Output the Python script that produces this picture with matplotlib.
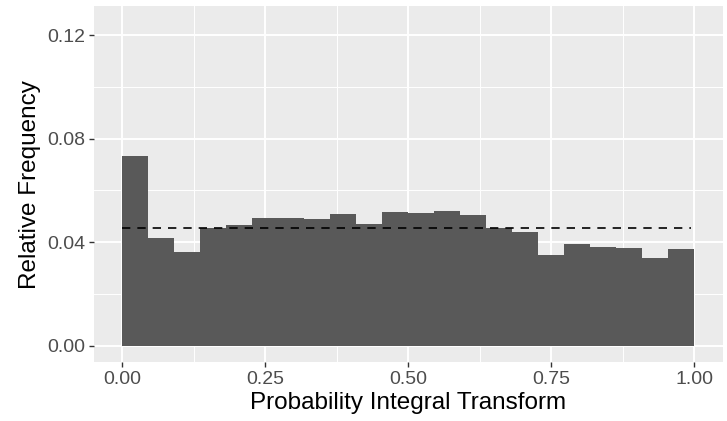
import matplotlib
matplotlib.use("Agg")
import matplotlib.pyplot as plt
import numpy as np

plt.rcParams['font.family'] = ['Liberation Sans', 'DejaVu Sans']

n_bins = 22
bin_edges = np.linspace(0, 1, n_bins + 1)
rel_freq = [0.0735, 0.0418, 0.0361, 0.0454, 0.0466, 0.0492, 0.0492, 0.0488,
            0.0509, 0.0469, 0.0518, 0.0513, 0.0520, 0.0504, 0.0454, 0.0438,
            0.0350, 0.0394, 0.0383, 0.0379, 0.0338, 0.0372]
uniform_level = 1 / 22
x_ticks = [0.00, 0.25, 0.50, 0.75, 1.00]
x_ticklabels = ["0.00", "0.25", "0.50", "0.75", "1.00"]
y_ticks = [0.00, 0.04, 0.08, 0.12]
y_ticklabels = ["0.00", "0.04", "0.08", "0.12"]

W, H = 727, 421
fig = plt.figure(figsize=(W / 100, H / 100), dpi=100)
left, right, top, bottom = 94, 722.8, 6, 362.3
ax = fig.add_axes([left / W, (H - bottom) / H, (right - left) / W, (bottom - top) / H])
ax.set_facecolor('#EBEBEB')

ax.set_xlim(-0.0496, 1.05)
ax.set_ylim(-0.0064, 0.1313)

# grid
for v in [0.125, 0.375, 0.625, 0.875]:
    ax.axvline(v, color='white', lw=0.7, zorder=0)
for v in [0.02, 0.06, 0.10]:
    ax.axhline(v, color='white', lw=0.7, zorder=0)
for v in x_ticks:
    ax.axvline(v, color='white', lw=1.4, zorder=0)
for v in y_ticks:
    ax.axhline(v, color='white', lw=1.4, zorder=0)

ax.bar(bin_edges[:-1], rel_freq, width=np.diff(bin_edges), align='edge',
       color='#595959', edgecolor='none', zorder=2)
ax.hlines(uniform_level, 0, 0.995, colors='black', linestyles=(0, (5, 4.2)), lw=1.2, zorder=3)

for s in ax.spines.values():
    s.set_visible(False)

ax.set_xticks(x_ticks)
ax.set_xticklabels(x_ticklabels)
ax.set_yticks(y_ticks)
ax.set_yticklabels(y_ticklabels)
ax.tick_params(axis='both', colors='#333333', length=3.5, width=1.0,
               labelsize=14, labelcolor='#4D4D4D', pad=2.5)

ax.set_xlabel("Probability Integral Transform", fontsize=17.5, color='black', labelpad=3)
ax.set_ylabel("Relative Frequency", fontsize=17.5, color='black', labelpad=5)

fig.savefig("out.png", dpi=100, facecolor='white')
